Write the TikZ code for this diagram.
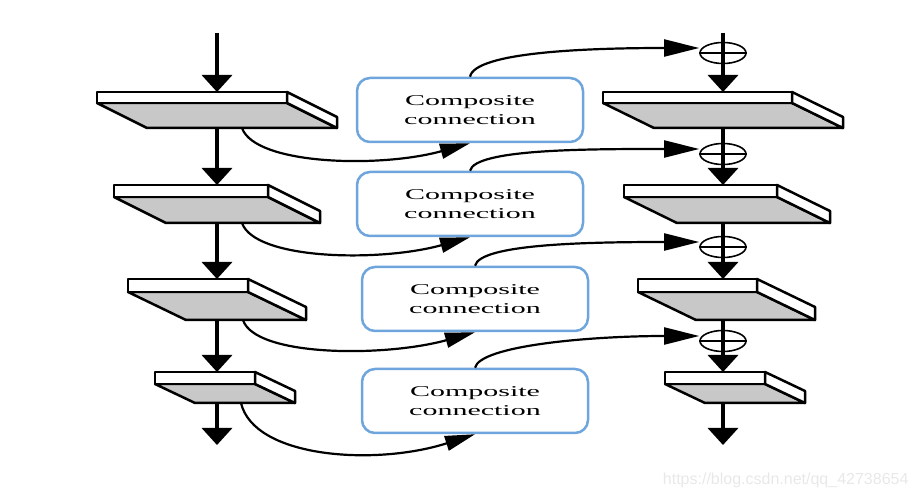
\documentclass[tikz,border=0pt]{standalone}
\usepackage{fontspec}
\usepackage{graphicx}
\setmainfont{Liberation Serif}
\newfontfamily\marksans{Liberation Sans}
\usetikzlibrary{arrows.meta,shapes.geometric}
\definecolor{slabgray}{RGB}{200,200,200}
\definecolor{boxblue}{RGB}{110,165,220}
\definecolor{markgray}{RGB}{232,232,232}
\newcommand{\sx}[1]{\scalebox{2}[1]{#1}}
% slab: x, y, width, strip height, depth dx, depth dy
\newcommand{\slab}[6]{%
  \draw[slabface] (#1,#2) ++(0,#4) -- ++(#3,0) -- ++(#5,#6) -- ++(-#3,0) -- cycle;
  \draw[slabedge] (#1,#2) rectangle ++(#3,#4);
  \draw[slabedge] (#1,#2) ++(#3,0) -- ++(#5,#6) -- ++(0,#4) -- ++(-#5,-#6) -- cycle;}
\tikzset{
  slabface/.style={draw,line width=2.5pt,fill=slabgray,line join=round},
  slabedge/.style={draw,line width=2.5pt,fill=white,line join=round},
  flowarrow/.style={line width=3.5pt,-{Triangle[length=17pt,width=30pt]}},
  feedarrow/.style={line width=2.2pt,-{Triangle[length=30pt,width=15pt]}},
  sumarrow/.style={line width=2.2pt,-{Triangle[length=35pt,width=17pt]}},
  compbox/.style={draw=boxblue,line width=2.5pt,rounded corners=13pt,minimum width=226pt,
    minimum height=64pt,font=\fontsize{15}{19}\selectfont,align=center,inner sep=0pt},
  sumnode/.style={ellipse,draw,line width=1.6pt,minimum width=46pt,minimum height=21pt,inner sep=0pt},
}

\begin{document}
\begin{tikzpicture}[x=1pt,y=-1pt]
  \useasboundingbox (0,0) rectangle (922,494);
  % left column
  \slab{97}{92}{190}{11}{50}{25}
  \slab{114}{185}{154}{12}{52}{26}
  \slab{128}{279}{120}{13}{58}{28}
  \slab{155}{372}{100}{12}{40}{19}
  % right column
  \slab{603}{92}{189}{11}{51}{25}
  \slab{624}{185}{153}{12}{53}{26}
  \slab{638}{279}{119}{13}{58}{28}
  \slab{665}{372}{100}{12}{40}{19}

  \coordinate (L0) at (217,33);
  \coordinate (L1t) at (217,92);  \coordinate (L1b) at (217,128);
  \coordinate (L2t) at (217,185); \coordinate (L2b) at (217,223);
  \coordinate (L3t) at (217,279); \coordinate (L3b) at (217,320);
  \coordinate (L4t) at (217,372); \coordinate (L4b) at (217,403);
  \coordinate (L5) at (217,445);
  \coordinate (L1c) at (242,128);
  \coordinate (L2c) at (242,223);
  \coordinate (L3c) at (243,320);
  \coordinate (L4c) at (241,403);

  \coordinate (R0) at (723,33);
  \coordinate (R1t) at (723,92);  \coordinate (R1b) at (723,128);
  \coordinate (R2t) at (723,185); \coordinate (R2b) at (723,224);
  \coordinate (R3t) at (723,279); \coordinate (R3b) at (723,320);
  \coordinate (R4t) at (723,372); \coordinate (R4b) at (723,403);
  \coordinate (R5) at (723,445);

  \node[compbox] (c1) at (470,110) {\sx{Composite}\\\sx{connection}};
  \node[compbox] (c2) at (470,204) {\sx{Composite}\\\sx{connection}};
  \node[compbox] (c3) at (475,299) {\sx{Composite}\\\sx{connection}};
  \node[compbox] (c4) at (475,401) {\sx{Composite}\\\sx{connection}};

  \node[sumnode] (p1) at (723,53) {};
  \node[sumnode] (p2) at (723,154) {};
  \node[sumnode] (p3) at (723,247) {};
  \node[sumnode] (p4) at (723,341) {};
  \draw[line width=1.6pt] (p1.west) -- (p1.east);
  \draw[line width=1.6pt] (p2.west) -- (p2.east);
  \draw[line width=1.6pt] (p3.west) -- (p3.east);
  \draw[line width=1.6pt] (p4.west) -- (p4.east);

  \draw[flowarrow] (L0) -- (L1t);
  \draw[flowarrow] (L1b) -- (L2t);
  \draw[flowarrow] (L2b) -- (L3t);
  \draw[flowarrow] (L3b) -- (L4t);
  \draw[flowarrow] (L4b) -- (L5);
  \draw[flowarrow] (R0) -- (R1t);
  \draw[flowarrow] (R1b) -- (R2t);
  \draw[flowarrow] (R2b) -- (R3t);
  \draw[flowarrow] (R3b) -- (R4t);
  \draw[flowarrow] (R4b) -- (R5);

  \draw[feedarrow] (L1c) .. controls +(13,37) and +(-90,25) .. (c1.south);
  \draw[feedarrow] (L2c) .. controls +(13,37) and +(-90,25) .. (c2.south);
  \draw[feedarrow] (L3c) .. controls +(12,37) and +(-90,25) .. (c3.south);
  \draw[feedarrow] (L4c) .. controls +(13,55) and +(-100,32) .. (c4.south);

  \draw[sumarrow] (c1.north) .. controls +(5,-25) and +(-110,0) .. ([yshift=5pt]p1.west);
  \draw[sumarrow] (c2.north) .. controls +(5,-22) and +(-110,0) .. ([yshift=5pt]p2.west);
  \draw[sumarrow] (c3.north) .. controls +(5,-22) and +(-110,0) .. ([yshift=5pt]p3.west);
  \draw[sumarrow] (c4.north) .. controls +(5,-22) and +(-110,0) .. ([yshift=5pt]p4.west);

  \node[font=\marksans\fontsize{16}{16}\selectfont,text=markgray,anchor=base east] (mark) at (912,485) {https://blog.csdn.net/qq\_42738654};
\end{tikzpicture}
\end{document}
